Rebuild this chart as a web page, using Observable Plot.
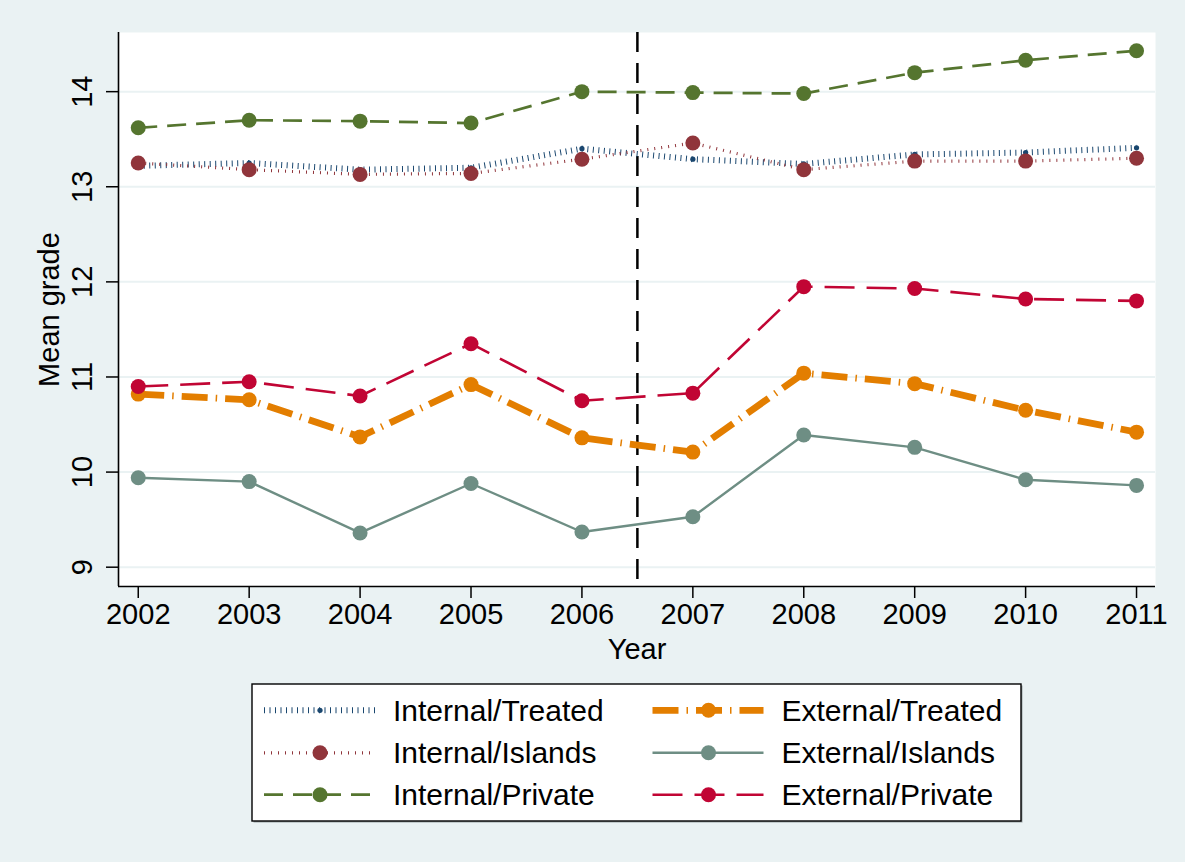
<!DOCTYPE html>
<html><head><meta charset="utf-8">
<script src="https://cdn.jsdelivr.net/npm/d3@7"></script>
<script src="https://cdn.jsdelivr.net/npm/@observablehq/plot@0.6"></script>
<style>
html,body{margin:0;padding:0;background:#eaf2f3;}
#wrap{position:relative;width:1185px;height:862px;background:#eaf2f3;font-family:"Liberation Sans",Arial,Helvetica,sans-serif;overflow:hidden;}
#wrap svg{position:absolute;left:0;}
</style></head><body><div id="wrap"></div>
<script>
// ---- data ----
const years = [2002, 2003, 2004, 2005, 2006, 2007, 2008, 2009, 2010, 2011];
const internalTreated = [13.22, 13.25, 13.18, 13.20, 13.40, 13.29, 13.24, 13.34, 13.36, 13.41];
const internalIslands = [13.25, 13.18, 13.13, 13.14, 13.29, 13.46, 13.18, 13.27, 13.27, 13.30];
const internalPrivate = [13.62, 13.70, 13.69, 13.67, 14.00, 13.99, 13.98, 14.20, 14.33, 14.43];
const externalTreated = [10.82, 10.76, 10.37, 10.92, 10.36, 10.21, 11.04, 10.93, 10.65, 10.42];
const externalIslands = [9.94, 9.90, 9.36, 9.88, 9.37, 9.53, 10.39, 10.26, 9.92, 9.86];
const externalPrivate = [10.90, 10.95, 10.80, 11.35, 10.75, 10.83, 11.95, 11.93, 11.82, 11.80];
const seriesNames = ["Internal/Treated", "Internal/Islands", "Internal/Private",
                     "External/Treated", "External/Islands", "External/Private"];
const yTicks = [9, 10, 11, 12, 13, 14];
const treatmentCut = 2006.5;
const xTitle = "Year";
const yTitle = "Mean grade";

// ---- styles ----
const seriesValues = [internalTreated, internalIslands, internalPrivate, externalTreated, externalIslands, externalPrivate];
const styles = [
  {color: "#1a476f", width: 6,   dash: "1,4.5",      r: 2.6},
  {color: "#90353b", width: 3.2, dash: "1,6",        r: 7.5},
  {color: "#55752f", width: 2.7, dash: "19,10",      r: 7.5},
  {color: "#e37e00", width: 6.8, dash: "26,8,1.5,8", r: 7.5},
  {color: "#6e8e84", width: 2.4, dash: null,         r: 7.5},
  {color: "#c10534", width: 2.6, dash: "30,12",      r: 7.5}
];
const rows = seriesNames.flatMap((name, k) => years.map((yr, i) => ({year: yr, value: seriesValues[k][i], series: name})));

const xDomain = [2001.822, 2011.171];
const yDomain = [8.797, 14.622];
const FONT = '"Liberation Sans", Arial, Helvetica, sans-serif';

const seriesMarks = seriesNames.flatMap((name, k) => {
  const s = styles[k];
  const d = rows.filter(r => r.series === name);
  return [
    Plot.line(d, {x: "year", y: "value", stroke: s.color, strokeWidth: s.width,
                  strokeDasharray: s.dash || undefined, strokeLinecap: "butt", strokeLinejoin: "round"}),
    Plot.dot(d, {x: "year", y: "value", r: s.r, fill: s.color, stroke: "none"})
  ];
});

const chart = Plot.plot({
  width: 1185, height: 672,
  marginLeft: 118, marginRight: 30, marginTop: 32, marginBottom: 86,
  x: {domain: xDomain},
  y: {domain: yDomain},
  style: {background: "transparent", fontFamily: FONT, color: "black", overflow: "visible"},
  marks: [
    Plot.frame({fill: "white", stroke: "none"}),
    Plot.gridY({ticks: yTicks, stroke: "#eaf2f3", strokeOpacity: 1, strokeWidth: 2}),
    Plot.ruleX([treatmentCut], {stroke: "black", strokeWidth: 2.5, strokeDasharray: "20,11"}),
    ...seriesMarks,
    Plot.ruleX([xDomain[0]], {stroke: "black", strokeWidth: 1.6}),
    Plot.ruleY([yDomain[0]], {stroke: "black", strokeWidth: 1.6}),
    Plot.axisX({ticks: years, tickSize: 12, tickPadding: 5, fontSize: 29, tickFormat: d => String(d),
                stroke: "black", strokeWidth: 1.5, label: null}),
    Plot.axisY({ticks: yTicks, tickSize: 12, tickFormat: () => "", stroke: "black", strokeWidth: 1.5, label: null}),
    Plot.text(yTicks, {y: d => d, text: d => String(d), frameAnchor: "left", dx: -36, rotate: -90,
                       textAnchor: "middle", lineAnchor: "middle", fontSize: 29, fill: "black"}),
    Plot.text([yTitle], {text: d => d, frameAnchor: "left", dx: -69, rotate: -90,
                         textAnchor: "middle", lineAnchor: "middle", fontSize: 29, fill: "black"}),
    Plot.text([xTitle], {text: d => d, frameAnchor: "bottom", dy: 72.3, lineAnchor: "bottom",
                         fontSize: 29, fill: "black"})
  ]
});
chart.style.top = "0px";
const wrap = document.getElementById("wrap");
wrap.appendChild(chart);

// ---- legend (below the plot SVG) ----
const lg = d3.select(wrap).append("svg")
  .attr("width", 1185).attr("height", 190)
  .style("top", "672px")
  .attr("font-family", FONT);
lg.append("rect").attr("x", 253.5).attr("y", 13.5).attr("width", 769).attr("height", 137).attr("fill", "#9aa3a5");
lg.append("rect").attr("x", 252).attr("y", 12).attr("width", 769).attr("height", 137)
  .attr("fill", "white").attr("stroke", "black").attr("stroke-width", 1.4);
const colX = [264, 652.5];
const rowY = [38.3, 80.8, 122.7];
seriesNames.forEach((name, k) => {
  const s = styles[k];
  const col = Math.floor(k / 3), row = k % 3;
  const x0 = colX[col], cy = rowY[row];
  lg.append("line").attr("x1", x0).attr("x2", x0 + 111).attr("y1", cy).attr("y2", cy)
    .attr("stroke", s.color).attr("stroke-width", s.width)
    .attr("stroke-dasharray", s.dash).attr("stroke-linecap", "butt");
  lg.append("circle").attr("cx", x0 + 56).attr("cy", cy).attr("r", s.r).attr("fill", s.color);
  lg.append("text").attr("x", x0 + 129).attr("y", cy + 10.6).attr("font-size", 30).attr("fill", "black").text(name);
});
</script></body></html>
